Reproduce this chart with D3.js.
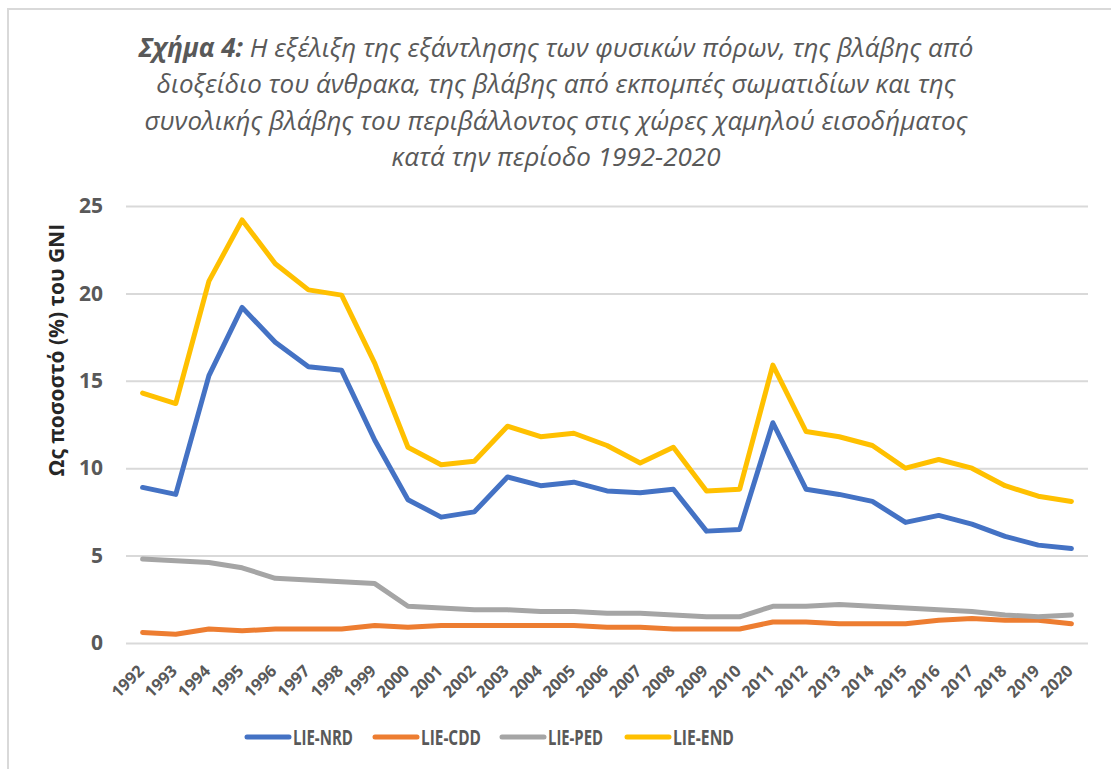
<!DOCTYPE html>
<html>
<head>
<meta charset="utf-8">
<script src="https://cdn.jsdelivr.net/npm/d3@7"></script>
<style>
  body { margin: 0; background: #fff; }
  svg { display: block; }
  text { font-family: "Open Sans", "Noto Sans", sans-serif; }
</style>
</head>
<body>
<svg id="chart"></svg>
<script>
var years = ["1992","1993","1994","1995","1996","1997","1998","1999","2000","2001",
  "2002","2003","2004","2005","2006","2007","2008","2009","2010","2011",
  "2012","2013","2014","2015","2016","2017","2018","2019","2020"];

var lieNRD = [8.9, 8.5, 15.3, 19.2, 17.2, 15.8, 15.6, 11.6, 8.2, 7.2,
  7.5, 9.5, 9.0, 9.2, 8.7, 8.6, 8.8, 6.4, 6.5, 12.6,
  8.8, 8.5, 8.1, 6.9, 7.3, 6.8, 6.1, 5.6, 5.4];
var lieCDD = [0.6, 0.5, 0.8, 0.7, 0.8, 0.8, 0.8, 1.0, 0.9, 1.0,
  1.0, 1.0, 1.0, 1.0, 0.9, 0.9, 0.8, 0.8, 0.8, 1.2,
  1.2, 1.1, 1.1, 1.1, 1.3, 1.4, 1.3, 1.3, 1.1];
var liePED = [4.8, 4.7, 4.6, 4.3, 3.7, 3.6, 3.5, 3.4, 2.1, 2.0,
  1.9, 1.9, 1.8, 1.8, 1.7, 1.7, 1.6, 1.5, 1.5, 2.1,
  2.1, 2.2, 2.1, 2.0, 1.9, 1.8, 1.6, 1.5, 1.6];
var lieEND = [14.3, 13.7, 20.7, 24.2, 21.7, 20.2, 19.9, 16.0, 11.2, 10.2,
  10.4, 12.4, 11.8, 12.0, 11.3, 10.3, 11.2, 8.7, 8.8, 15.9,
  12.1, 11.8, 11.3, 10.0, 10.5, 10.0, 9.0, 8.4, 8.1];

var seriesNames = ["LIE-NRD", "LIE-CDD", "LIE-PED", "LIE-END"];
var yTicks = [0, 5, 10, 15, 20, 25];

var titleLines = [
  "Η εξέλιξη της εξάντλησης των φυσικών πόρων, της βλάβης από",
  "διοξείδιο του άνθρακα, της βλάβης από εκπομπές σωματιδίων και της",
  "συνολικής βλάβης του περιβάλλοντος στις χώρες χαμηλού εισοδήματος",
  "κατά την περίοδο 1992-2020"
];
var titleLead = "Σχήμα 4:";
var yTitle = "Ως ποσοστό (%) του GNI";

var series = [lieNRD, lieCDD, liePED, lieEND];
var colors = ["#4472C4", "#ED7D31", "#A5A5A5", "#FFC000"];

var width = 1111, height = 769;
var plot = { left: 126, right: 1088, top: 206, bottom: 643 };

var svg = d3.select("#chart")
  .attr("width", width)
  .attr("height", height);

// outer frame of the chart area
svg.append("rect")
  .attr("x", 8).attr("y", 9)
  .attr("width", 1130).attr("height", 790)
  .attr("fill", "none")
  .attr("stroke", "#d9d9d9")
  .attr("stroke-width", 2);

// title
var title = svg.append("text")
  .attr("text-anchor", "middle")
  .attr("fill", "#595959")
  .style("font-size", "26px")
  .style("font-style", "italic");

titleLines.forEach(function (line, i) {
  var t = title.append("tspan")
    .attr("x", 556)
    .attr("y", 57 + i * 36.3);
  if (i === 0) {
    t.append("tspan").attr("font-weight", "bold").text(titleLead + " ");
    t.append("tspan").text(line);
  } else {
    t.text(line);
  }
});

// scales
var x = d3.scalePoint()
  .domain(years)
  .range([plot.left, plot.right])
  .padding(0.5);

var y = d3.scaleLinear()
  .domain([0, 25])
  .range([plot.bottom, plot.top]);

// gridlines + y labels
var yAxis = d3.axisLeft(y)
  .tickValues(yTicks)
  .tickSize(-(plot.right - plot.left))
  .tickPadding(23)
  .tickFormat(d3.format("d"));

var gy = svg.append("g")
  .attr("transform", `translate(${plot.left},0)`)
  .call(yAxis);

gy.select(".domain").remove();
gy.selectAll(".tick line")
  .attr("stroke", "#d9d9d9")
  .attr("stroke-width", 2);
gy.selectAll(".tick text")
  .attr("fill", "#595959")
  .style("font-size", "21px")
  .style("font-weight", "bold");

// x labels
var xAxis = d3.axisBottom(x).tickSize(0).tickPadding(0);
var gx = svg.append("g")
  .attr("transform", `translate(0,${plot.bottom})`)
  .call(xAxis);
gx.select(".domain").remove();
gx.selectAll(".tick text")
  .attr("fill", "#595959")
  .style("font-size", "16.5px")
  .style("font-weight", "bold")
  .attr("text-anchor", "end")
  .attr("dy", null)
  .attr("y", null)
  .attr("transform", "translate(2,29) rotate(-45)");

// y axis title
svg.append("text")
  .attr("transform", "translate(64,350) rotate(-90)")
  .attr("text-anchor", "middle")
  .attr("fill", "#262626")
  .style("font-size", "21px")
  .style("font-weight", "bold")
  .text(yTitle);

// lines
var line = d3.line()
  .x(function (d, i) { return x(years[i]); })
  .y(function (d) { return y(d); });

svg.selectAll(".series")
  .data(series)
  .enter()
  .append("path")
  .attr("class", "series")
  .attr("d", line)
  .attr("fill", "none")
  .attr("stroke", function (d, i) { return colors[i]; })
  .attr("stroke-width", 5)
  .attr("stroke-linejoin", "round")
  .attr("stroke-linecap", "round");

// legend
var legendX = [247, 375, 502, 627];
var legendW = [60, 60, 55, 61];
var legend = svg.selectAll(".legend")
  .data(seriesNames)
  .enter()
  .append("g")
  .attr("class", "legend")
  .attr("transform", function (d, i) { return `translate(${legendX[i]},737)`; });

legend.append("line")
  .attr("x1", 0).attr("x2", 42)
  .attr("y1", 0).attr("y2", 0)
  .attr("stroke", function (d, i) { return colors[i]; })
  .attr("stroke-width", 5)
  .attr("stroke-linecap", "round");

// calibri is much narrower than what we have, squeeze horizontally
legend.append("text")
  .attr("fill", "#595959")
  .style("font-size", "22px")
  .style("font-weight", "bold")
  .text(function (d) { return d; })
  .attr("transform", function (d, i) {
    var w = this.getComputedTextLength();
    return `translate(46,8) scale(${legendW[i] / w},1)`;
  });
</script>
</body>
</html>
